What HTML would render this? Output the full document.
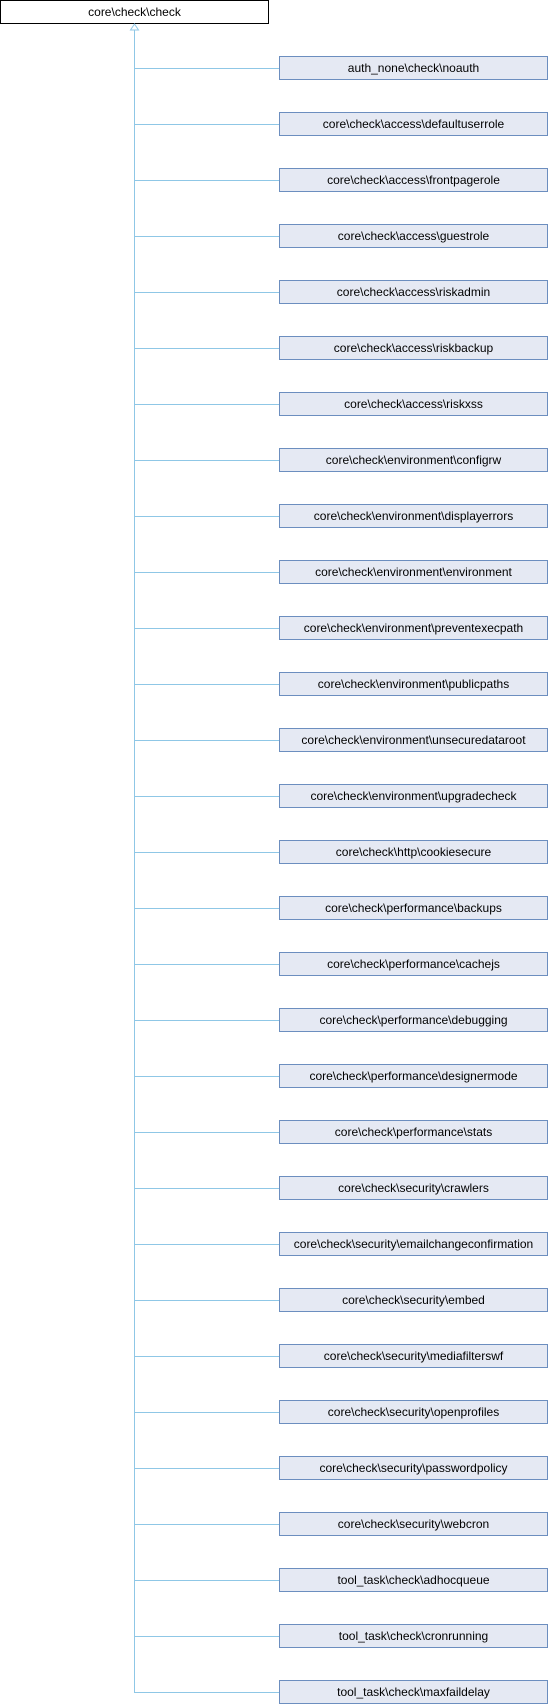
<!DOCTYPE html>
<html><head><style>
body{margin:0;width:548px;height:1704px;background:#fff;position:relative;font-family:"Liberation Sans",sans-serif;font-size:12px;overflow:hidden}
.b{position:absolute;box-sizing:border-box;height:24px;line-height:22px;text-align:center;white-space:nowrap}
.r{left:0;top:0;width:269px;border:1px solid #000;background:#fff}
.c{left:279px;width:269px;border:1px solid #6c8ebf;background:#e5e9f3}
.h{position:absolute;left:134px;height:1px;width:145px;background:#8fc7e6}
</style></head><body>
<div class="b r">core\check\check</div>
<div style="position:absolute;left:134px;top:24px;width:1px;height:1668px;background:#8fc7e6"></div>
<svg style="position:absolute;left:129px;top:23px" width="11" height="8"><polygon points="5.5,1 1.5,7 9.5,7" fill="#fff" stroke="#8fc7e6"/></svg>
<script>
var n=["auth_none\\check\\noauth","core\\check\\access\\defaultuserrole","core\\check\\access\\frontpagerole","core\\check\\access\\guestrole","core\\check\\access\\riskadmin","core\\check\\access\\riskbackup","core\\check\\access\\riskxss","core\\check\\environment\\configrw","core\\check\\environment\\displayerrors","core\\check\\environment\\environment","core\\check\\environment\\preventexecpath","core\\check\\environment\\publicpaths","core\\check\\environment\\unsecuredataroot","core\\check\\environment\\upgradecheck","core\\check\\http\\cookiesecure","core\\check\\performance\\backups","core\\check\\performance\\cachejs","core\\check\\performance\\debugging","core\\check\\performance\\designermode","core\\check\\performance\\stats","core\\check\\security\\crawlers","core\\check\\security\\emailchangeconfirmation","core\\check\\security\\embed","core\\check\\security\\mediafilterswf","core\\check\\security\\openprofiles","core\\check\\security\\passwordpolicy","core\\check\\security\\webcron","tool_task\\check\\adhocqueue","tool_task\\check\\cronrunning","tool_task\\check\\maxfaildelay"];
var h="";for(var i=0;i<n.length;i++){var t=56+56*i;h+='<div class="h" style="top:'+(t+12)+'px"></div><div class="b c" style="top:'+t+'px">'+n[i]+'</div>';}
document.write(h);
</script>
</body></html>
